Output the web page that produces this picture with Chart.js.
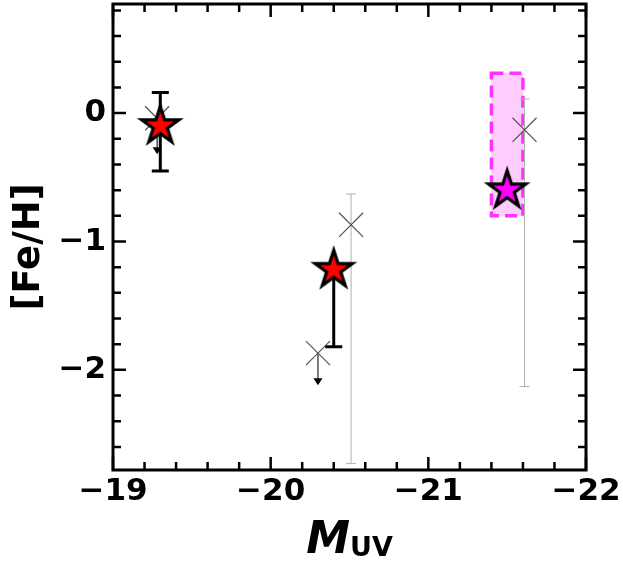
<!DOCTYPE html>
<html><head><meta charset="utf-8">
<script src="https://cdn.jsdelivr.net/npm/chart.js@4/dist/chart.umd.min.js"></script>
<style>html,body{margin:0;padding:0;background:#fff}#wrap{width:623px;height:566px;position:relative}</style>
</head><body><div id="wrap"><canvas id="c" width="623" height="566" style="width:623px;height:566px"></canvas></div>
<script>
// ---- data ----
const xTicks = [-19, -20, -21, -22];
const yTicks = [0, -1, -2];
const redX = [-19.3, -20.4];
const redY = [-0.1, -1.22];
const redErrLo = [-0.45, -1.82];
const redErrHi = [0.16, -1.22];
const grayX = [-19.28, -20.51, -20.30, -21.61];
const grayY = [-0.04, -0.87, -1.87, -0.13];
const grayErrLo = [null, -2.73, null, -2.13];
const grayErrHi = [null, -0.63, null, 0.11];
const grayLimitTo = [-0.32, null, -2.12, null];
const magX = [-21.5];
const magY = [-0.6];
const magBoxX = [-21.4, -21.6];
const magBoxY = [-0.8, 0.31];

const FONT = "'DejaVu Sans', sans-serif";

function starImage(fill, R, lw) {
  const s = Math.ceil(2 * R + lw * 2 + 4);
  const c = document.createElement('canvas');
  c.width = s; c.height = s;
  const g = c.getContext('2d');
  const cx = s / 2, cy = s / 2, r = R * 0.381966;
  g.beginPath();
  for (let i = 0; i < 10; i++) {
    const a = -Math.PI / 2 + i * Math.PI / 5;
    const rr = i % 2 === 0 ? R : r;
    const px = cx + rr * Math.cos(a), py = cy + rr * Math.sin(a);
    i === 0 ? g.moveTo(px, py) : g.lineTo(px, py);
  }
  g.closePath();
  g.fillStyle = fill; g.fill();
  g.lineWidth = lw; g.lineJoin = 'miter'; g.strokeStyle = '#000'; g.stroke();
  return c;
}
const redStar = starImage('#ff0000', 19.5, 3.2);
const magStar = starImage('#ff00ff', 19.5, 3.2);

const fmt = v => (v < 0 ? '\u2212' : '') + Math.abs(v);

const decor = {
  id: 'decor',
  beforeDatasetsDraw(chart) {
    const ctx = chart.ctx, xs = chart.scales.x, ys = chart.scales.y;
    const bx1 = xs.getPixelForValue(magBoxX[0]), bx2 = xs.getPixelForValue(magBoxX[1]);
    const by1 = ys.getPixelForValue(magBoxY[1]), by2 = ys.getPixelForValue(magBoxY[0]);
    ctx.save();
    ctx.fillStyle = 'rgba(255,0,255,0.2)';
    ctx.fillRect(bx1, by1, bx2 - bx1, by2 - by1);
    ctx.setLineDash([12, 6]);
    ctx.lineWidth = 3.5; ctx.strokeStyle = '#ff33ff';
    ctx.strokeRect(bx1, by1, bx2 - bx1, by2 - by1);
    ctx.restore();
    ctx.save();
    ctx.strokeStyle = '#b0b0b0'; ctx.lineWidth = 1;
    grayX.forEach((xv, i) => {
      if (grayErrLo[i] === null) return;
      const px = xs.getPixelForValue(xv);
      const p1 = ys.getPixelForValue(grayErrHi[i]), p2 = ys.getPixelForValue(grayErrLo[i]);
      ctx.beginPath();
      ctx.moveTo(px, p1); ctx.lineTo(px, p2);
      ctx.moveTo(px - 5, p1); ctx.lineTo(px + 5, p1);
      ctx.moveTo(px - 5, p2); ctx.lineTo(px + 5, p2);
      ctx.stroke();
    });
    ctx.restore();
    ctx.save();
    ctx.strokeStyle = '#222'; ctx.fillStyle = '#000'; ctx.lineWidth = 1.2;
    grayX.forEach((xv, i) => {
      if (grayLimitTo[i] === null) return;
      const px = xs.getPixelForValue(xv);
      const p1 = ys.getPixelForValue(grayY[i]), p2 = ys.getPixelForValue(grayLimitTo[i]);
      ctx.beginPath(); ctx.moveTo(px, p1); ctx.lineTo(px, p2 - 5); ctx.stroke();
      ctx.beginPath(); ctx.moveTo(px - 4.5, p2 - 7); ctx.lineTo(px + 4.5, p2 - 7); ctx.lineTo(px, p2); ctx.closePath(); ctx.fill();
    });
    ctx.restore();
  },
  afterDatasetDraw(chart, args) {
    if (args.index !== 2) return;
    const ctx = chart.ctx, xs = chart.scales.x, ys = chart.scales.y;
    ctx.save();
    ctx.strokeStyle = '#000'; ctx.lineWidth = 3;
    redX.forEach((xv, i) => {
      const px = xs.getPixelForValue(xv);
      const p1 = ys.getPixelForValue(redErrHi[i]), p2 = ys.getPixelForValue(redErrLo[i]);
      ctx.beginPath();
      ctx.moveTo(px, p1); ctx.lineTo(px, p2);
      ctx.moveTo(px - 8.5, p1); ctx.lineTo(px + 8.5, p1);
      ctx.moveTo(px - 8.5, p2); ctx.lineTo(px + 8.5, p2);
      ctx.stroke();
    });
    ctx.restore();
  },
  afterDraw(chart) {
    const ctx = chart.ctx, xs = chart.scales.x, ys = chart.scales.y, a = chart.chartArea;
    ctx.save();
    ctx.strokeStyle = '#000'; ctx.lineCap = 'butt';
    ctx.lineWidth = 2.5;
    ctx.beginPath();
    for (let i = 0; i <= 15; i++) {
      const v = -19 - i * 0.2;
      const px = xs.getPixelForValue(v);
      const L = (i % 5 === 0) ? 13 : 8;
      ctx.moveTo(px, a.bottom); ctx.lineTo(px, a.bottom - L);
      ctx.moveTo(px, a.top); ctx.lineTo(px, a.top + L);
    }
    for (let i = -13; i <= 4; i++) {
      const v = i * 0.2;
      if (v < ys.min || v > ys.max) continue;
      const py = ys.getPixelForValue(v);
      const L = (i % 5 === 0) ? 13 : 8;
      ctx.moveTo(a.left, py); ctx.lineTo(a.left + L, py);
      ctx.moveTo(a.right, py); ctx.lineTo(a.right - L, py);
    }
    ctx.stroke();
    ctx.lineWidth = 3;
    ctx.strokeRect(a.left, a.top, a.right - a.left, a.bottom - a.top);
    ctx.fillStyle = '#000';
    ctx.textBaseline = 'alphabetic';
    ctx.font = `italic bold 44px ${FONT}`;
    const wM = ctx.measureText('M').width;
    ctx.font = `bold 27px ${FONT}`;
    const wUV = ctx.measureText('UV').width;
    const cx = (a.left + a.right) / 2;
    const x0 = cx - (wM + wUV) / 2;
    ctx.font = `italic bold 44px ${FONT}`;
    ctx.textAlign = 'left';
    ctx.fillText('M', x0, 553);
    ctx.font = `bold 27px ${FONT}`;
    ctx.fillText('UV', x0 + wM, 556);
    ctx.translate(29, 247);
    ctx.rotate(-Math.PI / 2);
    ctx.font = `bold 37px ${FONT}`;
    ctx.textAlign = 'center'; ctx.textBaseline = 'middle';
    ctx.fillText('[Fe/H]', 0, 0);
    ctx.restore();
  }
};

new Chart(document.getElementById('c'), {
  type: 'scatter',
  data: {
    datasets: [
      { label: 'mag', data: magX.map((x, i) => ({ x, y: magY[i] })), pointStyle: magStar, pointRadius: 20, order: 0 },
      { label: 'red', data: redX.map((x, i) => ({ x, y: redY[i] })), pointStyle: redStar, pointRadius: 20, order: 1 },
      { label: 'gray', data: grayX.map((x, i) => ({ x, y: grayY[i] })), pointStyle: 'crossRot', pointRadius: 17,
        borderColor: '#555', backgroundColor: '#555', borderWidth: 1.2, order: 2 }
    ]
  },
  options: {
    responsive: false, animation: false, devicePixelRatio: 1,
    layout: { autoPadding: false, padding: { top: 4, right: 37, left: 0, bottom: 0 } },
    plugins: { legend: { display: false }, tooltip: { enabled: false } },
    scales: {
      x: {
        type: 'linear', min: -22, max: -19, reverse: true,
        grid: { display: false, drawTicks: false }, border: { display: false },
        afterBuildTicks: s => { s.ticks = xTicks.map(v => ({ value: v })); },
        afterFit: s => { s.height = 96; s.paddingLeft = 0; s.paddingRight = 0; },
        ticks: { callback: fmt, color: '#000', padding: 3, maxRotation: 0, autoSkip: false,
                 font: { family: FONT, weight: 'bold', size: 31 } }
      },
      y: {
        type: 'linear', min: -2.78, max: 0.85,
        grid: { display: false, drawTicks: false }, border: { display: false },
        afterBuildTicks: s => { s.ticks = yTicks.map(v => ({ value: v })); },
        afterFit: s => { s.width = 113; s.paddingTop = 0; s.paddingBottom = 0; },
        ticks: { callback: fmt, color: '#000', padding: 7, autoSkip: false,
                 font: { family: FONT, weight: 'bold', size: 31 } }
      }
    }
  },
  plugins: [decor]
});
</script></body></html>
